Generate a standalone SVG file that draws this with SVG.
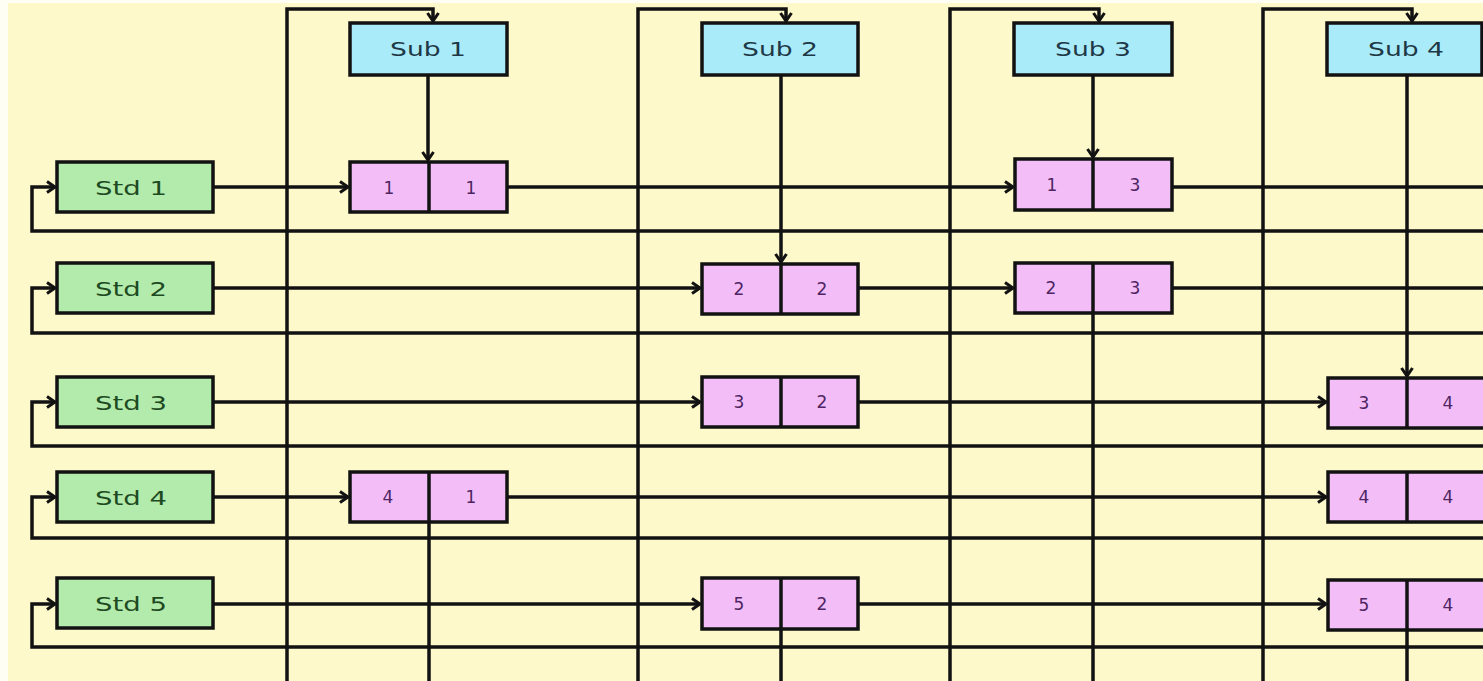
<svg xmlns="http://www.w3.org/2000/svg" width="1483" height="681" viewBox="0 0 1483 681">
<style>
.box{stroke:#121212;stroke-width:3.5}
.std{fill:#B3EBAC}
.sub{fill:#AAEBFA}
.cell{fill:#F3BEF7}
.div{stroke:#121212;stroke-width:3.5}
.ln{fill:none;stroke:#121212;stroke-width:3.5;stroke-linejoin:miter}
.arr{marker-end:url(#arr)}
text{font-family:"DejaVu Sans","Liberation Sans",sans-serif;text-anchor:middle}
.ts{font-size:19px;fill:#1E4A22}
.tb{font-size:19px;fill:#1E3846}
.td{font-size:17px;fill:#4E2462}
</style>
<defs>
<marker id="arr" markerUnits="userSpaceOnUse" markerWidth="14" markerHeight="14" refX="10" refY="7" orient="auto">
<path d="M2,1.5 L10,7 L2,12.5" fill="none" stroke="#121212" stroke-width="3"/>
</marker>
</defs>
<rect x="0" y="0" width="1483" height="681" fill="#FFFEF4"/>
<rect x="8" y="3" width="1475" height="678" fill="#FEF9CA"/>
<g id="connectors">
<path class="ln arr" d="M1483,231 L32,231 L32,187 L55,187"/>
<path class="ln arr" d="M1483,333 L32,333 L32,288 L55,288"/>
<path class="ln arr" d="M1483,446 L32,446 L32,402 L55,402"/>
<path class="ln arr" d="M1483,538 L32,538 L32,497 L55,497"/>
<path class="ln arr" d="M1483,647 L32,647 L32,604 L55,604"/>
<path class="ln arr" d="M213,187 L348,187"/>
<path class="ln arr" d="M507,187 L1013,187"/>
<path class="ln" d="M1172,187 L1483,187"/>
<path class="ln arr" d="M213,288 L700,288"/>
<path class="ln arr" d="M858,288 L1013,288"/>
<path class="ln" d="M1172,288 L1483,288"/>
<path class="ln arr" d="M213,402 L700,402"/>
<path class="ln arr" d="M858,402 L1326,402"/>
<path class="ln arr" d="M213,497 L348,497"/>
<path class="ln arr" d="M507,497 L1326,497"/>
<path class="ln arr" d="M213,604 L700,604"/>
<path class="ln arr" d="M858,604 L1326,604"/>
<path class="ln arr" d="M287,681 L287,9 L433,9 L433,21"/>
<path class="ln arr" d="M638,681 L638,9 L786,9 L786,21"/>
<path class="ln arr" d="M950,681 L950,9 L1099,9 L1099,21"/>
<path class="ln arr" d="M1263,681 L1263,9 L1412,9 L1412,21"/>
<path class="ln arr" d="M428,75 L428,160"/>
<path class="ln" d="M429,522 L429,681"/>
<path class="ln arr" d="M781,75 L781,262"/>
<path class="ln" d="M781,629 L781,681"/>
<path class="ln arr" d="M1093,75 L1093,157"/>
<path class="ln" d="M1093,313 L1093,681"/>
<path class="ln arr" d="M1407,75 L1407,376"/>
<path class="ln" d="M1407,630 L1407,681"/>
</g>
<g id="std1"><rect class="box std" x="57" y="162" width="156" height="50"/><text class="ts" x="131" y="195" textLength="72" lengthAdjust="spacingAndGlyphs">Std 1</text></g>
<g id="std2"><rect class="box std" x="57" y="263" width="156" height="50"/><text class="ts" x="131" y="296" textLength="72" lengthAdjust="spacingAndGlyphs">Std 2</text></g>
<g id="std3"><rect class="box std" x="57" y="377" width="156" height="50"/><text class="ts" x="131" y="410" textLength="72" lengthAdjust="spacingAndGlyphs">Std 3</text></g>
<g id="std4"><rect class="box std" x="57" y="472" width="156" height="50"/><text class="ts" x="131" y="505" textLength="72" lengthAdjust="spacingAndGlyphs">Std 4</text></g>
<g id="std5"><rect class="box std" x="57" y="578" width="156" height="50"/><text class="ts" x="131" y="611" textLength="72" lengthAdjust="spacingAndGlyphs">Std 5</text></g>
<g id="sub1"><rect class="box sub" x="350" y="23" width="157" height="52"/><text class="tb" x="428" y="56" textLength="76" lengthAdjust="spacingAndGlyphs">Sub 1</text></g>
<g id="sub2"><rect class="box sub" x="702" y="23" width="156" height="52"/><text class="tb" x="780" y="56" textLength="76" lengthAdjust="spacingAndGlyphs">Sub 2</text></g>
<g id="sub3"><rect class="box sub" x="1014" y="23" width="158" height="52"/><text class="tb" x="1093" y="56" textLength="76" lengthAdjust="spacingAndGlyphs">Sub 3</text></g>
<g id="sub4"><rect class="box sub" x="1327" y="23" width="155" height="52"/><text class="tb" x="1406" y="56" textLength="76" lengthAdjust="spacingAndGlyphs">Sub 4</text></g>
<g id="n11"><rect class="box cell" x="350" y="162" width="157" height="50"/><line class="div" x1="429" y1="162" x2="429" y2="212"/><text class="td" x="389" y="194">1</text><text class="td" x="471" y="194">1</text></g>
<g id="n13"><rect class="box cell" x="1015" y="159" width="157" height="51"/><line class="div" x1="1093" y1="159" x2="1093" y2="210"/><text class="td" x="1052" y="191">1</text><text class="td" x="1135" y="191">3</text></g>
<g id="n22"><rect class="box cell" x="702" y="264" width="156" height="50"/><line class="div" x1="781" y1="264" x2="781" y2="314"/><text class="td" x="739" y="295">2</text><text class="td" x="822" y="295">2</text></g>
<g id="n23"><rect class="box cell" x="1015" y="263" width="157" height="50"/><line class="div" x1="1093" y1="263" x2="1093" y2="313"/><text class="td" x="1051" y="294">2</text><text class="td" x="1135" y="294">3</text></g>
<g id="n32"><rect class="box cell" x="702" y="377" width="156" height="50"/><line class="div" x1="781" y1="377" x2="781" y2="427"/><text class="td" x="739" y="408">3</text><text class="td" x="822" y="408">2</text></g>
<g id="n34"><rect class="box cell" x="1328" y="378" width="158" height="50"/><line class="div" x1="1407" y1="378" x2="1407" y2="428"/><text class="td" x="1364" y="409">3</text><text class="td" x="1448" y="409">4</text></g>
<g id="n41"><rect class="box cell" x="350" y="472" width="157" height="50"/><line class="div" x1="429" y1="472" x2="429" y2="522"/><text class="td" x="388" y="503">4</text><text class="td" x="471" y="503">1</text></g>
<g id="n44"><rect class="box cell" x="1328" y="472" width="158" height="50"/><line class="div" x1="1407" y1="472" x2="1407" y2="522"/><text class="td" x="1364" y="503">4</text><text class="td" x="1448" y="503">4</text></g>
<g id="n52"><rect class="box cell" x="702" y="578" width="156" height="51"/><line class="div" x1="781" y1="578" x2="781" y2="629"/><text class="td" x="739" y="610">5</text><text class="td" x="822" y="610">2</text></g>
<g id="n54"><rect class="box cell" x="1328" y="580" width="158" height="50"/><line class="div" x1="1407" y1="580" x2="1407" y2="630"/><text class="td" x="1364" y="611">5</text><text class="td" x="1448" y="611">4</text></g>
</svg>
